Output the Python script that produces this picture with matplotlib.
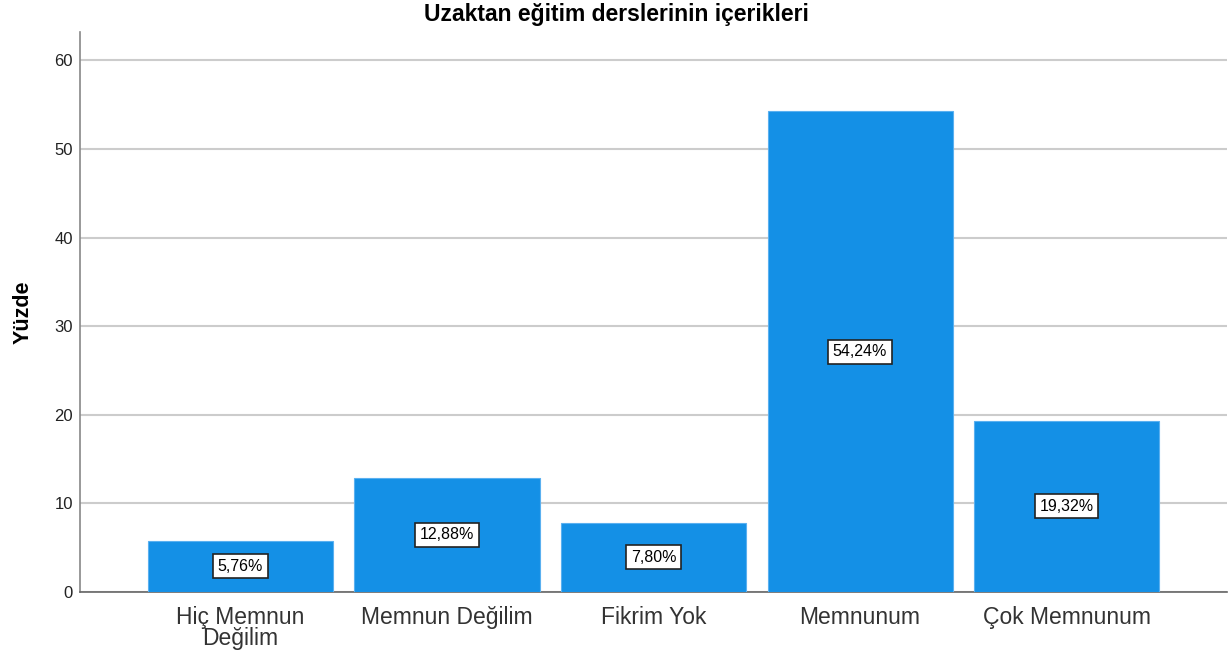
import matplotlib
matplotlib.use("Agg")
import matplotlib.pyplot as plt

categories = ["Hiç Memnun\nDeğilim", "Memnun Değilim", "Fikrim Yok", "Memnunum", "Çok Memnunum"]
values = [5.76, 12.88, 7.80, 54.24, 19.32]
value_labels = ["5,76%", "12,88%", "7,80%", "54,24%", "19,32%"]
yticks = [0, 10, 20, 30, 40, 50, 60]

plt.rcParams['font.family'] = ['Liberation Sans', 'DejaVu Sans']

fig = plt.figure(figsize=(12.32, 6.59), dpi=100)
ax = fig.add_axes([0.0649, 0.1017, 0.9311, 0.8497])

x = list(range(len(categories)))
ax.bar(x, values, width=0.896, color="#1490E6", edgecolor="#5AB0F0", linewidth=0.8, zorder=3)
for xi, v, lab in zip(x, values, value_labels):
    ax.text(xi, v / 2, lab, ha="center", va="center", fontsize=11.5, color="black", zorder=5,
            bbox=dict(boxstyle="square,pad=0.28", facecolor="white", edgecolor="#222222", linewidth=1.2))

ax.set_xlim(-0.777, 4.777)
ax.set_ylim(0, 63.2)
ax.set_yticks(yticks)
ax.set_yticklabels([str(t) for t in yticks], fontsize=12, color="#222222")
ax.set_xticks(x)
ax.set_xticklabels(categories, fontsize=16.5, color="#333333", linespacing=0.9)
ax.tick_params(axis="both", length=0)
ax.tick_params(axis="y", pad=5)
ax.tick_params(axis="x", pad=10)
ax.grid(axis="y", color="#CCCCCC", linewidth=1.5, zorder=0)
ax.set_axisbelow(True)
for s in ["top", "right"]:
    ax.spines[s].set_visible(False)
ax.spines["left"].set_color("#888888")
ax.spines["left"].set_linewidth(1.2)
ax.spines["bottom"].set_color("#666666")
ax.spines["bottom"].set_linewidth(1.2)

ax.set_ylabel("Yüzde", fontsize=15.5, fontweight="bold", labelpad=15)
fig.text(0.5, 0.978, "Uzaktan eğitim derslerinin içerikleri", ha="center", va="center",
         fontsize=16.5, fontweight="bold")

fig.savefig("out.png", dpi=100)
